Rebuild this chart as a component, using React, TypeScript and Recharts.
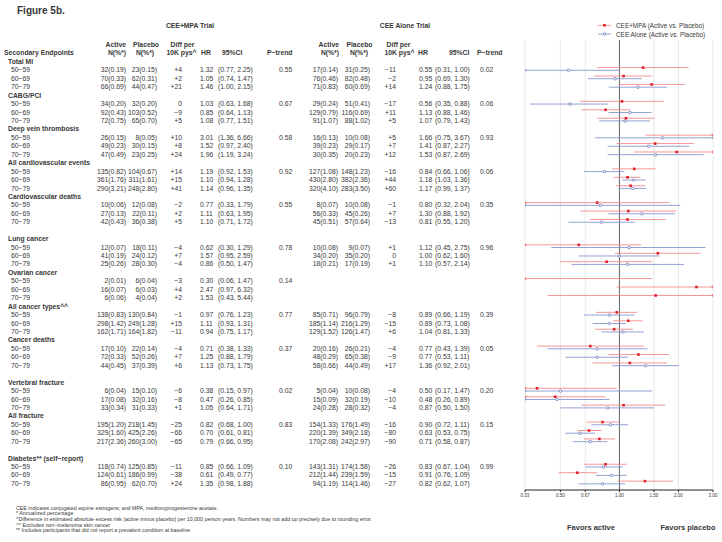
import React from "react";
import { ScatterChart, Scatter, XAxis, YAxis, CartesianGrid, ReferenceLine } from "recharts";

// ---- data ----
const groups = [
  "Total MI",
  "CABG/PCI",
  "Deep vein thrombosis",
  "All cardiovascular events",
  "Cardiovascular deaths",
  "Lung cancer",
  "Ovarian cancer",
  "All cancer types^^",
  "Cancer deaths",
  "Vertebral fracture",
  "All fracture",
  "Diabetes** (self\u2212report)",
];
const groupRows = [0, 4, 8, 12, 16, 21, 25, 29, 33, 38, 42, 47];
const ages = ["50\u221259", "60\u221269", "70\u221279"];

const mpaActive = [
  ["32(0.19)", "70(0.33)", "66(0.69)"],
  ["34(0.20)", "92(0.43)", "72(0.75)"],
  ["26(0.15)", "49(0.23)", "47(0.49)"],
  ["135(0.82)", "361(1.76)", "290(3.21)"],
  ["10(0.06)", "27(0.13)", "42(0.43)"],
  ["12(0.07)", "41(0.19)", "25(0.26)"],
  ["2(0.01)", "16(0.07)", "6(0.06)"],
  ["138(0.83)", "298(1.42)", "162(1.71)"],
  ["17(0.10)", "72(0.33)", "44(0.45)"],
  ["6(0.04)", "17(0.08)", "33(0.34)"],
  ["195(1.20)", "329(1.60)", "217(2.36)"],
  ["118(0.74)", "124(0.61)", "86(0.95)"],
];
const mpaPlacebo = [
  ["23(0.15)", "62(0.31)", "44(0.47)"],
  ["32(0.20)", "103(0.52)", "65(0.70)"],
  ["8(0.05)", "30(0.15)", "23(0.25)"],
  ["104(0.67)", "311(1.61)", "248(2.80)"],
  ["12(0.08)", "22(0.11)", "36(0.38)"],
  ["18(0.11)", "24(0.12)", "28(0.30)"],
  ["6(0.04)", "6(0.03)", "4(0.04)"],
  ["130(0.84)", "249(1.28)", "164(1.82)"],
  ["22(0.14)", "52(0.26)", "37(0.39)"],
  ["15(0.10)", "32(0.16)", "31(0.33)"],
  ["218(1.45)", "425(2.26)", "260(3.00)"],
  ["125(0.85)", "186(0.99)", "62(0.70)"],
];
const mpaDiff = [
  ["+4", "+2", "+21"], ["0", "\u22129", "+5"], ["+10", "+8", "+24"], ["+14", "+15", "+41"],
  ["\u22122", "+2", "+5"], ["\u22124", "+7", "\u22124"], ["\u22123", "+4", "+2"], ["\u22121", "+15", "\u221211"],
  ["\u22124", "+7", "+6"], ["\u22126", "\u22128", "+1"], ["\u221225", "\u221266", "\u221265"], ["\u221211", "\u221238", "+24"],
];
const mpaHR = [[1.32, 1.05, 1.46], [1.03, 0.85, 1.08], [3.01, 1.52, 1.96], [1.19, 1.10, 1.14], [0.77, 1.11, 1.10], [0.62, 1.57, 0.86], [0.30, 2.47, 1.53], [0.97, 1.11, 0.94], [0.71, 1.25, 1.13], [0.38, 0.47, 1.05], [0.82, 0.70, 0.79], [0.85, 0.61, 1.35]];
const mpaLo = [[0.77, 0.74, 1.00], [0.63, 0.64, 0.77], [1.36, 0.97, 1.19], [0.92, 0.94, 0.96], [0.33, 0.63, 0.71], [0.30, 0.95, 0.50], [0.06, 0.97, 0.43], [0.76, 0.93, 0.75], [0.38, 0.88, 0.73], [0.15, 0.26, 0.64], [0.68, 0.61, 0.66], [0.66, 0.49, 0.98]];
const mpaHi = [[2.25, 1.47, 2.15], [1.68, 1.13, 1.51], [6.66, 2.40, 3.24], [1.53, 1.28, 1.35], [1.79, 1.95, 1.72], [1.29, 2.59, 1.47], [1.47, 6.32, 5.44], [1.23, 1.31, 1.17], [1.33, 1.79, 1.75], [0.97, 0.85, 1.71], [1.00, 0.81, 0.95], [1.09, 0.77, 1.88]];
const mpaP = ["0.55", "0.67", "0.58", "0.92", "0.55", "0.78", "0.14", "0.77", "0.37", "0.02", "0.83", "0.10"];

const aloneActive = [
  ["17(0.14)", "76(0.46)", "71(0.83)"],
  ["29(0.24)", "129(0.79)", "91(1.07)"],
  ["16(0.13)", "39(0.23)", "30(0.35)"],
  ["127(1.08)", "430(2.80)", "320(4.10)"],
  ["8(0.07)", "56(0.33)", "45(0.51)"],
  ["10(0.08)", "34(0.20)", "18(0.21)"],
  null,
  ["85(0.71)", "185(1.14)", "129(1.52)"],
  ["20(0.16)", "48(0.29)", "58(0.66)"],
  ["5(0.04)", "15(0.09)", "24(0.28)"],
  ["154(1.33)", "220(1.39)", "170(2.08)"],
  ["143(1.31)", "212(1.44)", "94(1.19)"],
];
const alonePlacebo = [
  ["31(0.25)", "82(0.48)", "60(0.69)"],
  ["51(0.41)", "116(0.69)", "88(1.02)"],
  ["10(0.08)", "29(0.17)", "20(0.23)"],
  ["148(1.23)", "382(2.36)", "283(3.50)"],
  ["10(0.08)", "45(0.26)", "57(0.64)"],
  ["9(0.07)", "35(0.20)", "17(0.19)"],
  null,
  ["96(0.79)", "216(1.29)", "126(1.47)"],
  ["26(0.21)", "65(0.38)", "44(0.49)"],
  ["10(0.08)", "32(0.19)", "28(0.32)"],
  ["176(1.49)", "349(2.18)", "242(2.97)"],
  ["174(1.58)", "239(1.59)", "114(1.46)"],
];
const aloneDiff = [
  ["\u221211", "\u22122", "+14"], ["\u221217", "+11", "+5"], ["+5", "+7", "+12"], ["\u221216", "+44", "+60"],
  ["\u22121", "+7", "\u221213"], ["+1", "0", "+1"], null, ["\u22128", "\u221215", "+6"],
  ["\u22124", "\u22129", "+17"], ["\u22124", "\u221210", "\u22124"], ["\u221216", "\u221280", "\u221290"], ["\u221226", "\u221215", "\u221227"],
];
const aloneHR = [[0.55, 0.95, 1.24], [0.56, 1.13, 1.07], [1.66, 1.41, 1.53], [0.84, 1.18, 1.17], [0.80, 1.30, 0.81], [1.12, 1.00, 1.10], null, [0.89, 0.89, 1.04], [0.77, 0.77, 1.36], [0.50, 0.48, 0.87], [0.90, 0.63, 0.71], [0.83, 0.91, 0.82]];
const aloneLo = [[0.31, 0.69, 0.88], [0.35, 0.88, 0.79], [0.75, 0.87, 0.87], [0.66, 1.03, 0.99], [0.32, 0.88, 0.55], [0.45, 0.62, 0.57], null, [0.66, 0.73, 0.81], [0.43, 0.53, 0.92], [0.17, 0.26, 0.50], [0.72, 0.53, 0.58], [0.67, 0.76, 0.62]];
const aloneHi = [[1.00, 1.30, 1.75], [0.88, 1.46, 1.43], [3.67, 2.27, 2.69], [1.06, 1.36, 1.37], [2.04, 1.92, 1.20], [2.75, 1.60, 2.14], null, [1.19, 1.08, 1.33], [1.39, 1.11, 2.01], [1.47, 0.89, 1.50], [1.11, 0.75, 0.87], [1.04, 1.09, 1.07]];
const aloneP = ["0.02", "0.06", "0.93", "0.06", "0.35", "0.96", "", "0.39", "0.05", "0.20", "0.15", "0.99"];

const xTicks = [0.33, 0.5, 0.67, 1, 1.5, 2, 3];
const footnotes = [
  "CEE indicates conjugated equine estrogens; and MPA, medroxyprogesterone acetate.",
  "* Annualized percentage",
  "^Difference in estimated absolute excess risk (active minus placebo) per 10,000 person years.  Numbers may not add up precisely due to rounding error.",
  "^^ Excludes non\u2212melanoma skin cancer",
  "** Includes participants that did not report a prevalent condition at baseline",
];

// ---- layout helpers ----
const XMIN = 0.33;
const XMAX = 3;
const RED_LINE = "#f48a8a";
const RED_PT = "#e0202a";
const BLUE_LINE = "#8696cd";
const BLUE_PT = "#6878bd";
const TEXT = "#383838";
const FONT = "'Liberation Sans', Arial, Helvetica, sans-serif";
const rowY = (r: number) => 61.4 + 8.44 * r;

type Seg = { lo: number; hi: number; y: number };

function buildSeries(hr: any[], lo: any[], hi: any[], offset: number) {
  const pts: { x: number; y: number }[] = [];
  const segs: Seg[] = [];
  const ends: { x: number; y: number }[] = [];
  groups.forEach((_, g) => {
    if (!hr[g]) return;
    for (let a = 0; a < 3; a++) {
      const y = groupRows[g] + 1 + a + offset;
      const h = hr[g][a];
      if (h >= XMIN && h <= XMAX) pts.push({ x: h, y });
      segs.push({ lo: Math.max(lo[g][a], XMIN), hi: Math.min(hi[g][a], XMAX), y });
      if (lo[g][a] <= XMIN) ends.push({ x: XMIN, y });
      if (hi[g][a] > XMAX) ends.push({ x: XMAX, y });
    }
  });
  return { pts, segs, ends };
}

const mpa = buildSeries(mpaHR, mpaLo, mpaHi, -0.27);
const alone = buildSeries(aloneHR, aloneLo, aloneHi, 0.05);

function Txt({ x, y, children, anchor = "start", bold = false, size = 6.8 }: any) {
  return (
    <text x={x} y={y} textAnchor={anchor} dominantBaseline="central" fontSize={size} fontWeight={bold ? "bold" : "normal"} fill={TEXT}>
      {children}
    </text>
  );
}

function Table() {
  const rows: React.ReactNode[] = [];
  groups.forEach((name, g) => {
    rows.push(<Txt key={`g${g}`} x={8} y={rowY(groupRows[g])} bold>{name}</Txt>);
    for (let a = 0; a < 3; a++) {
      const y = rowY(groupRows[g] + 1 + a);
      rows.push(
        <g key={`r${g}-${a}`}>
          <Txt x={11} y={y}>{ages[a]}</Txt>
          <Txt x={126} y={y} anchor="end">{mpaActive[g][a]}</Txt>
          <Txt x={157} y={y} anchor="end">{mpaPlacebo[g][a]}</Txt>
          <Txt x={182} y={y} anchor="end">{mpaDiff[g][a]}</Txt>
          <Txt x={200} y={y}>{mpaHR[g][a].toFixed(2)}</Txt>
          <Txt x={218} y={y}>{`(${mpaLo[g][a].toFixed(2)}, ${mpaHi[g][a].toFixed(2)})`}</Txt>
          {a === 0 && <Txt x={279} y={y}>{mpaP[g]}</Txt>}
          {aloneActive[g] && (
            <>
              <Txt x={338} y={y} anchor="end">{aloneActive[g]![a]}</Txt>
              <Txt x={370} y={y} anchor="end">{alonePlacebo[g]![a]}</Txt>
              <Txt x={396} y={y} anchor="end">{aloneDiff[g]![a]}</Txt>
              <Txt x={419} y={y}>{aloneHR[g]![a].toFixed(2)}</Txt>
              <Txt x={435} y={y}>{`(${aloneLo[g]![a].toFixed(2)}, ${aloneHi[g]![a].toFixed(2)})`}</Txt>
              {a === 0 && <Txt x={480} y={y}>{aloneP[g]}</Txt>}
            </>
          )}
        </g>
      );
    }
  });
  return <>{rows}</>;
}

const Square = (p: any) => <rect x={p.cx - 1.3} y={p.cy - 1.3} width={2.6} height={2.6} fill={RED_PT} />;
const Ring = (p: any) => <circle cx={p.cx} cy={p.cy} r={1.3} fill="#fff" stroke={BLUE_PT} strokeWidth={0.8} />;
const RedEnd = (p: any) => <circle cx={p.cx} cy={p.cy} r={1} fill="none" stroke={RED_PT} strokeWidth={0.6} />;
const BlueEnd = (p: any) => <circle cx={p.cx} cy={p.cy} r={1} fill="none" stroke={BLUE_PT} strokeWidth={0.6} />;

export default function App() {
  return (
    <div style={{ position: "absolute", left: 0, top: 0, width: 722, height: 542, background: "#fff", fontFamily: FONT }}>
      <div style={{ position: "absolute", left: 505, top: 0 }}>
        <ScatterChart width={217} height={542} margin={{ top: 40, right: 9, bottom: 40, left: 20 }}>
          <CartesianGrid horizontal={false} stroke="#e2e2e2" strokeWidth={0.8} />
          <XAxis
            type="number"
            dataKey="x"
            scale="log"
            domain={[XMIN, XMAX]}
            ticks={xTicks}
            interval={0}
            allowDataOverflow
            tickFormatter={(v: number) => v.toFixed(2)}
            tick={{ fontSize: 4.5, fill: "#333", fontFamily: FONT }}
            tickSize={2}
            height={12}
            stroke="#222"
          />
          <YAxis type="number" dataKey="y" domain={[-2.54, 50.78]} reversed hide allowDataOverflow width={0} />
          <ReferenceLine x={1} stroke="#444" strokeWidth={0.8} />
          {mpa.segs.map((s, i) => (
            <ReferenceLine key={`m${i}`} segment={[{ x: s.lo, y: s.y }, { x: s.hi, y: s.y }]} stroke={RED_LINE} strokeWidth={0.9} ifOverflow="visible" />
          ))}
          {alone.segs.map((s, i) => (
            <ReferenceLine key={`a${i}`} segment={[{ x: s.lo, y: s.y }, { x: s.hi, y: s.y }]} stroke={BLUE_LINE} strokeWidth={0.9} ifOverflow="visible" />
          ))}
          <Scatter data={mpa.ends} shape={RedEnd} isAnimationActive={false} />
          <Scatter data={alone.ends} shape={BlueEnd} isAnimationActive={false} />
          <Scatter data={mpa.pts} shape={Square} isAnimationActive={false} />
          <Scatter data={alone.pts} shape={Ring} isAnimationActive={false} />
        </ScatterChart>
      </div>
      <svg width={722} height={542} style={{ position: "absolute", left: 0, top: 0, pointerEvents: "none", fontFamily: FONT }}>
        <Txt x={17} y={10} bold size={10}>Figure 5b.</Txt>
        <Txt x={190} y={25} anchor="middle" bold>CEE+MPA Trial</Txt>
        <Txt x={405} y={25} anchor="middle" bold>CEE Alone Trial</Txt>

        <Txt x={126} y={44} anchor="end" bold>Active</Txt>
        <Txt x={126} y={52.3} anchor="end" bold>N(%*)</Txt>
        <Txt x={146} y={44} anchor="middle" bold>Placebo</Txt>
        <Txt x={145} y={52.3} anchor="middle" bold>N(%*)</Txt>
        <Txt x={182.5} y={44} anchor="middle" bold>Diff per</Txt>
        <Txt x={181.5} y={52.3} anchor="middle" bold>10K pys^</Txt>
        <Txt x={201} y={52.3} bold>HR</Txt>
        <Txt x={222} y={52.3} bold>95%CI</Txt>
        <Txt x={267} y={52.3} bold>P{"\u2212"}trend</Txt>

        <Txt x={339} y={44} anchor="end" bold>Active</Txt>
        <Txt x={339} y={52.3} anchor="end" bold>N(%*)</Txt>
        <Txt x={359.5} y={44} anchor="middle" bold>Placebo</Txt>
        <Txt x={359} y={52.3} anchor="middle" bold>N(%*)</Txt>
        <Txt x={398.5} y={44} anchor="middle" bold>Diff per</Txt>
        <Txt x={399.5} y={52.3} anchor="middle" bold>10K pys^</Txt>
        <Txt x={418} y={52.3} bold>HR</Txt>
        <Txt x={449} y={52.3} bold>95%CI</Txt>
        <Txt x={477} y={52.3} bold>P{"\u2212"}trend</Txt>

        <Txt x={4} y={52.3} bold>Secondary Endpoints</Txt>
        <Table />

        {/* legend */}
        <line x1={598} x2={611} y1={25.3} y2={25.3} stroke={RED_LINE} strokeWidth={0.9} />
        <rect x={603.2} y={24} width={2.6} height={2.6} fill={RED_PT} />
        <Txt x={616} y={25.3} size={6.4}>CEE+MPA (Active vs. Placebo)</Txt>
        <line x1={598} x2={611} y1={34} y2={34} stroke={BLUE_LINE} strokeWidth={0.9} />
        <circle cx={604.5} cy={34} r={1.3} fill="#fff" stroke={BLUE_PT} strokeWidth={0.8} />
        <Txt x={616} y={34} size={6.4}>CEE Alone (Active vs. Placebo)</Txt>

        <Txt x={591} y={527} anchor="middle" bold size={7.5}>Favors active</Txt>
        <Txt x={688} y={527} anchor="middle" bold size={7.5}>Favors placebo</Txt>

        {footnotes.map((f, i) => (
          <Txt key={i} x={16} y={507.7 + 5.65 * i} size={5.3}>{f}</Txt>
        ))}
      </svg>
    </div>
  );
}
